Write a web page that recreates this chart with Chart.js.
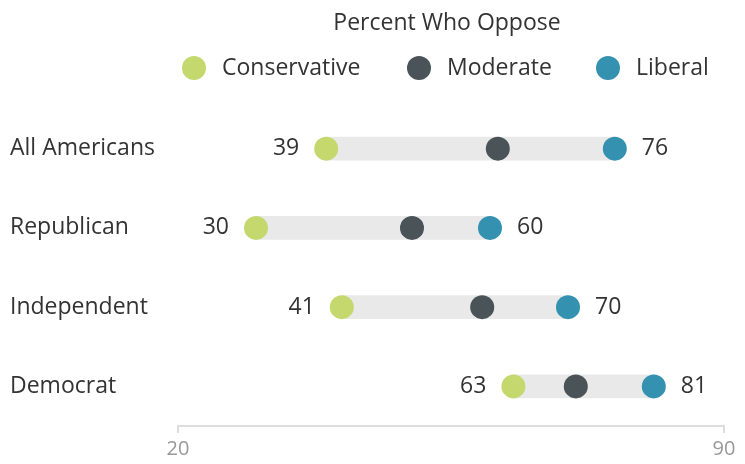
<!DOCTYPE html>
<html>
<head>
<meta charset="utf-8">
<script src="https://cdn.jsdelivr.net/npm/chart.js@4"></script>
<style>
  html, body { margin: 0; padding: 0; background: #fff; }
  #wrap { width: 745px; height: 464px; }
</style>
</head>
<body>
<div id="wrap"><canvas id="opposeChart"></canvas></div>
<script>
const groups = ["All Americans", "Republican", "Independent", "Democrat"];
const conservative = [39, 30, 41, 63];
const moderate = [61, 50, 59, 71];
const liberal = [76, 60, 70, 81];
const axisTicks = [20, 90];

const seriesNames = ["Conservative", "Moderate", "Liberal"];
const seriesColors = ["#C5D86D", "#4A5357", "#3591B0"];
const FONT = "'Open Sans', sans-serif";
const TEXT = "#333";

// title and legend above the rows
const headerPlugin = {
  id: "header",
  afterDraw(chart) {
    const ctx = chart.ctx;
    ctx.save();
    ctx.fillStyle = TEXT;
    ctx.font = "23px " + FONT;
    ctx.textAlign = "center";
    ctx.textBaseline = "middle";
    ctx.fillText("Percent Who Oppose", 447, 23);

    const dotX = [194, 419, 608];
    seriesNames.forEach((name, i) => {
      ctx.fillStyle = seriesColors[i];
      ctx.beginPath();
      ctx.arc(dotX[i], 68, 12, 0, Math.PI * 2);
      ctx.fill();
      ctx.fillStyle = TEXT;
      ctx.textAlign = "left";
      ctx.fillText(name, dotX[i] + 28, 68);
    });
    ctx.restore();
  },
};

// numbers beside the low and high ends of each row
const endLabels = {
  id: "endLabels",
  afterDatasetsDraw(chart) {
    const ctx = chart.ctx;
    const x = chart.scales.x;
    const y = chart.scales.y;
    ctx.save();
    ctx.fillStyle = TEXT;
    ctx.font = "23px " + FONT;
    ctx.textBaseline = "middle";
    groups.forEach((g, i) => {
      const py = y.getPixelForValue(i);
      ctx.textAlign = "right";
      ctx.fillText(String(conservative[i]), x.getPixelForValue(conservative[i]) - 27, py);
      ctx.textAlign = "left";
      ctx.fillText(String(liberal[i]), x.getPixelForValue(liberal[i]) + 27, py);
    });
    ctx.restore();
  },
};

function dots(label, values, color) {
  return {
    type: "line",
    label: label,
    data: values,
    showLine: false,
    pointRadius: 12,
    pointHoverRadius: 12,
    pointBorderWidth: 0,
    pointBackgroundColor: color,
    backgroundColor: color,
    borderColor: color,
  };
}

const ctx = document.getElementById("opposeChart").getContext("2d");

new Chart(ctx, {
  type: "bar",
  data: {
    labels: groups,
    datasets: [
      dots("Conservative", conservative, seriesColors[0]),
      dots("Moderate", moderate, seriesColors[1]),
      dots("Liberal", liberal, seriesColors[2]),
      {
        type: "bar",
        label: "range",
        data: groups.map((g, i) => [conservative[i], liberal[i]]),
        backgroundColor: "#E8E9E8",
        barThickness: 23,
      },
    ],
  },
  options: {
    indexAxis: "y",
    responsive: true,
    maintainAspectRatio: false,
    animation: false,
    layout: {
      padding: { top: 109, left: 10, right: 21, bottom: 2 },
    },
    plugins: {
      legend: { display: false },
      tooltip: { enabled: false },
    },
    scales: {
      x: {
        type: "linear",
        position: "bottom",
        min: 20,
        max: 90,
        afterBuildTicks(scale) {
          scale.ticks = axisTicks.map((v) => ({ value: v }));
        },
        afterFit(scale) {
          scale.height = 36;
        },
        grid: {
          drawOnChartArea: false,
          color: "#DDDDDD",
          lineWidth: 2,
          tickLength: 7,
        },
        border: { color: "#DDDDDD", width: 2 },
        ticks: {
          color: "#999",
          padding: 4,
          font: { family: FONT, size: 20 },
        },
      },
      y: {
        grid: { display: false },
        border: { display: false },
        afterFit(scale) {
          scale.width = 168;
        },
        ticks: {
          crossAlign: "far",
          color: TEXT,
          font: { family: FONT, size: 23 },
        },
      },
    },
  },
  plugins: [headerPlugin, endLabels],
});
</script>
</body>
</html>
